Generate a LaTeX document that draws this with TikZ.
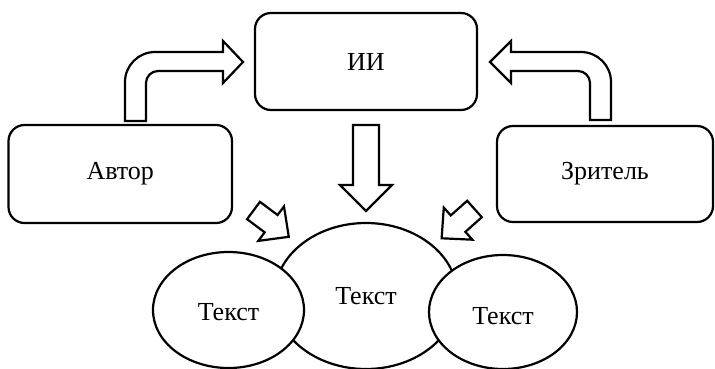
\documentclass[tikz,border=0pt]{standalone}
\usepackage{fontspec}
\setmainfont{Liberation Serif}
\usetikzlibrary{shapes.geometric}
\begin{document}
\begin{tikzpicture}[x=1pt,y=-1pt,
  every node/.style={font=\fontsize{26}{30}\selectfont},
  boxnode/.style={draw,line width=2.2pt,rounded corners=16pt,inner sep=0pt},
  ellnode/.style={draw,line width=2.2pt,ellipse,fill=white,inner sep=0pt},
  blockarrow/.style={draw,line width=2.2pt,line join=miter,fill=white}]
\useasboundingbox (0,0) rectangle (715,368);
% boxes
\node[boxnode,minimum width=222pt,minimum height=97pt] (ii) at (366,61.5) {ИИ};
\node[boxnode,minimum width=223.5pt,minimum height=98pt] (avtor) at (120.25,174) {Автор};
\node[boxnode,minimum width=216pt,minimum height=96pt] (zritel) at (605,174) {Зритель};
% ellipses
\node[ellnode,minimum width=183pt,minimum height=146pt] (tc) at (366,296) {Текст};
\node[ellnode,minimum width=151pt,minimum height=116pt,text height=21pt,text depth=0pt] (tl) at (228.5,310) {Текст};
\node[ellnode,minimum width=148pt,minimum height=114pt,text height=25pt,text depth=0pt] (tr) at (503,312) {Текст};
% bent arrow left
\draw[blockarrow] (125,121) -- (125,82) .. controls (125,65.4) and (138.4,52) .. (155,52)
  -- (223,52) -- (223,41) -- (243,62) -- (223,83) -- (223,71) -- (158,71)
  .. controls (151.4,71) and (146,76.4) .. (146,83) -- (146,121) -- cycle;
% bent arrow right
\draw[blockarrow] (611,120) -- (611,82) .. controls (611,65.4) and (597.6,52) .. (581,52)
  -- (511,52) -- (511,41) -- (490,62) -- (511,83) -- (511,71) -- (578,71)
  .. controls (584.6,71) and (590,76.4) .. (590,83) -- (590,120) -- cycle;
% down arrow
\draw[blockarrow] (353,125) -- (379,125) -- (379,185) -- (392,185) -- (366,211)
  -- (340,185) -- (353,185) -- cycle;
% diagonal arrows
\begin{scope}[shift={(253.5,210.5)},rotate=-36.7]
\draw[blockarrow] (0,-10.8) -- (22,-10.8) -- (22,-21.5) -- (44,0) -- (22,21.5)
  -- (22,10.8) -- (0,10.8) -- cycle;
\end{scope}
\begin{scope}[shift={(474.5,209)},rotate=221.7]
\draw[blockarrow] (0,-11) -- (22,-11) -- (22,-21.5) -- (44,0) -- (22,21.5)
  -- (22,11) -- (0,11) -- cycle;
\end{scope}
\end{tikzpicture}
\end{document}
